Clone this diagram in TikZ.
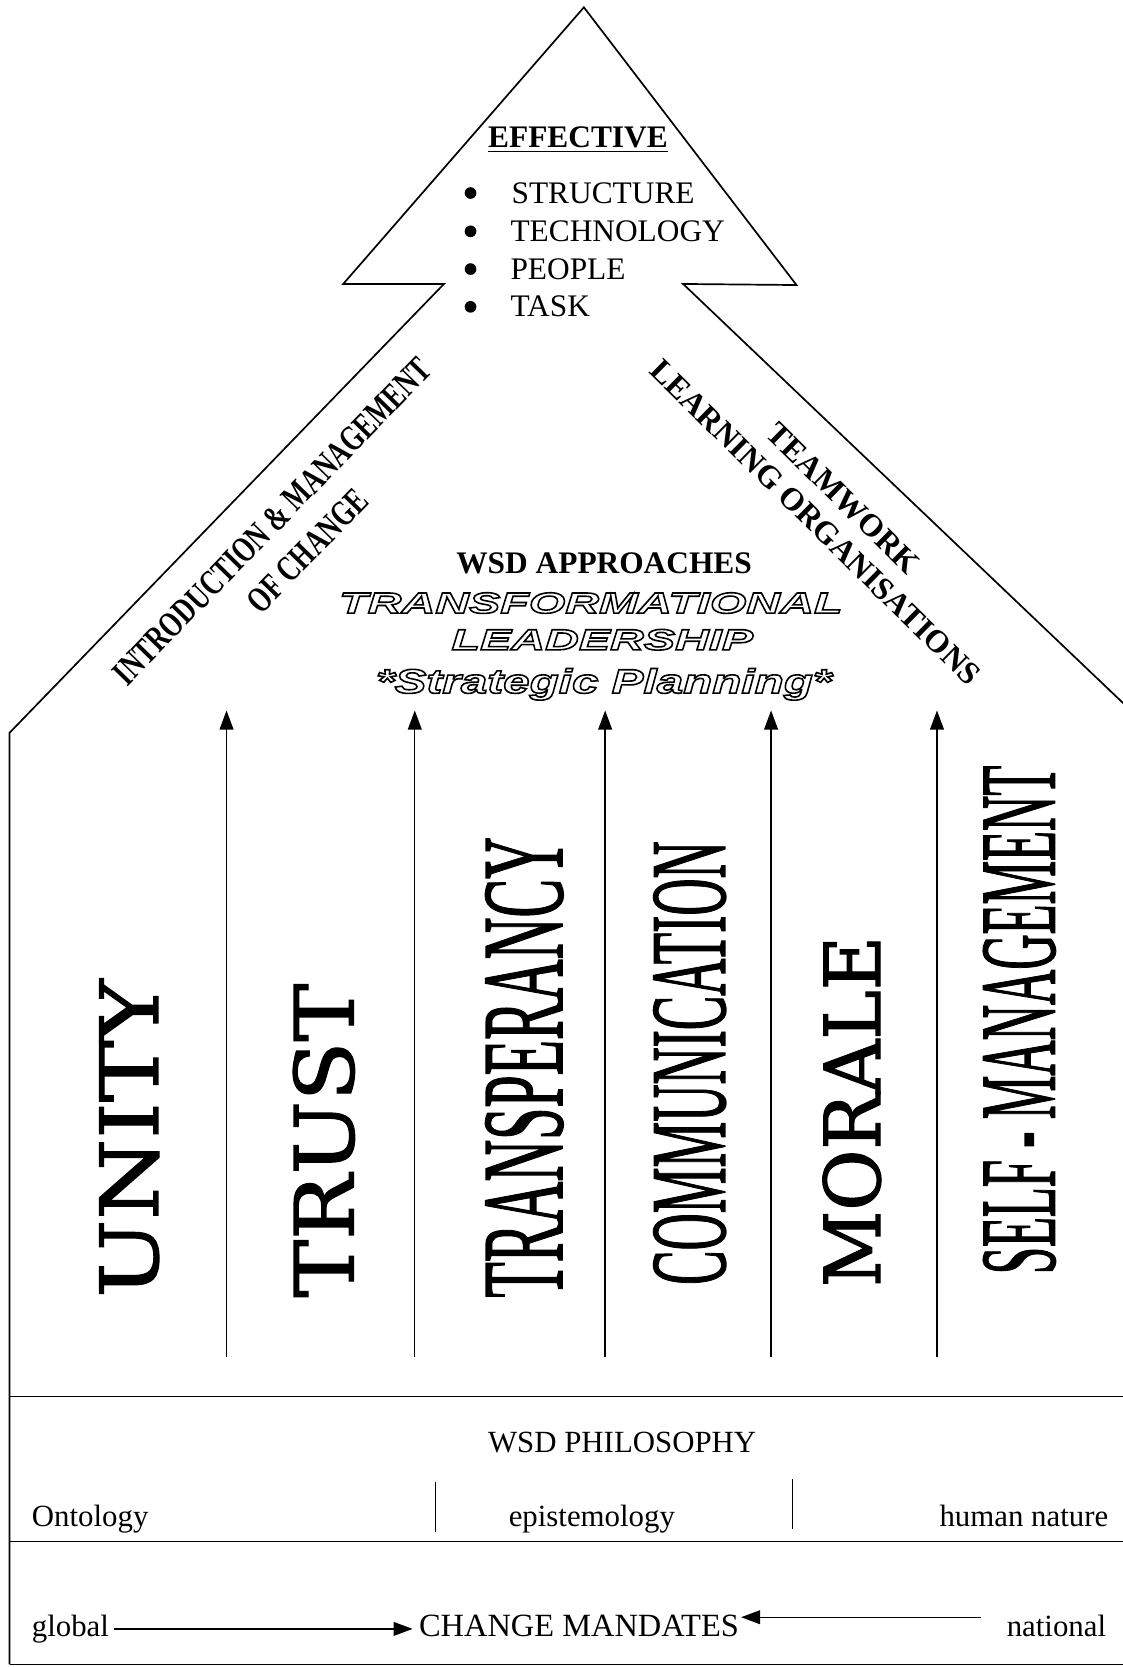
\documentclass[tikz,border=0pt]{standalone}
\usepackage{fontspec}
\setmainfont{Liberation Serif}
\newfontfamily\dvs[FakeBold=1.5]{DejaVu Serif}
\newfontfamily\tms[FakeBold=1.5]{Liberation Serif}
\newfontfamily\arialA[FakeStretch=1.6]{Liberation Sans}
\newfontfamily\arialB[FakeStretch=1.4]{Liberation Sans}
\usepackage{graphicx}
\usetikzlibrary{arrows.meta,calc}
\newcommand{\outl}[1]{\textcolor{white}{\special{pdf:literal direct 2 Tr 1.5 w 0 G}#1\special{pdf:literal direct 0 Tr}}}
\begin{document}
\begin{tikzpicture}[x=1pt,y=-1pt,
  outl/.style={line width=1.6pt, line join=miter},
  arr/.style={line width=1.3pt, -{Triangle[length=18pt,width=13pt]}},
  txt/.style={inner sep=0pt, outer sep=0pt},
  big/.style={txt, font=\fontsize{29.5}{30}\selectfont},
  bigb/.style={txt, font=\fontsize{29.5}{30}\selectfont\bfseries},
  low/.style={txt, font=\fontsize{29}{29}\selectfont},
  diagl/.style={txt, rotate=45.8, font=\fontsize{34}{34}\selectfont\bfseries},
  diagr/.style={txt, rotate=-44.5, font=\fontsize{30}{30}\selectfont\bfseries},
  outA/.style={txt, anchor=base, font=\arialA\fontsize{27.5}{28}\selectfont\bfseries\itshape},
  outB/.style={txt, anchor=base, font=\arialB\fontsize{32}{32}\selectfont\bfseries\itshape},
  vert/.style={txt, rotate=90}
]
\useasboundingbox (0,0) rectangle (1055,1567.4);

% house outline
\draw[outl] (9,1565) -- (9,689) -- (417.4,267) -- (322.7,267) -- (549,6.9)
  -- (748.9,268) -- (642.3,267) -- (1058,663);
\draw[outl] (9,1313) -- (1058,1313);
\draw[outl] (9,1449.5) -- (1058,1449.5);
\draw[outl] (9,1565) -- (1058,1565);

% top arrowhead text
\node[bigb, anchor=base west] (eff) at (459,139) {EFFECTIVE};
\draw[line width=1.5pt] ([yshift=-3.6pt]eff.base west) -- ([yshift=-3.6pt]eff.base east);
\node[big, anchor=base west] (i1) at (481,191) {STRUCTURE};
\node[big, anchor=base west] (i2) at (480,227) {TECHNOLOGY};
\node[big, anchor=base west] (i3) at (480,262.6) {PEOPLE};
\node[big, anchor=base west] (i4) at (480,298) {TASK};
\foreach \yy in {181.5,217.5,253,288.5} \fill (442.4,\yy) circle[radius=5.5pt];

% diagonal texts
\node[diagl] (intro) at (256,490) {\scalebox{0.72}[1]{INTRODUCTION \& MANAGEMENT}};
\node[diagl] (ofc) at (289,518) {\scalebox{0.72}[1]{OF CHANGE}};
\node[diagr] (lo) at (766.7,491) {LEARNING ORGANISATIONS};
\node[diagr] (tw) at (792.7,468.4) {TEAMWORK};

% middle texts
\node[bigb, anchor=base] (wsda) at (568,539) {WSD APPROACHES};
\node[outA] (tf) at (555.5,576.5) {\outl{TRANSFORMATIONAL}};
\node[outA] (ld) at (566.3,611) {\outl{LEADERSHIP}};
\node[outB] (sp) at (567.7,651.7) {\outl{*Strategic Planning*}};

% vertical arrows
\foreach \i/\xx in {1/213,2/390,3/569,4/725,5/881} {
  \coordinate (b\i) at (\xx,1276);
  \coordinate (t\i) at (\xx,668);
  \draw[arr] (b\i) -- (t\i);
}

% vertical words
\node[vert] (unity) at (121.5,1070.5) {\resizebox{299pt}{55pt}{\dvs UNITY}};
\node[vert] (trust) at (304.5,1072.5) {\resizebox{295pt}{57pt}{\dvs TRUST}};
\node[vert] (transp) at (493,1003.5) {\resizebox{433pt}{72pt}{\tms TRANSPERANCY}};
\node[vert] (comm) at (648.5,999.5) {\resizebox{417pt}{67pt}{\tms COMMUNICATION}};
\node[vert] (morale) at (801,1045) {\resizebox{330pt}{54pt}{\dvs MORALE}};
\node[vert] (selfm) at (958.5,959) {\resizebox{478pt}{67pt}{\tms SELF - MANAGEMENT}};

% philosophy section
\node[low, anchor=base] (phil) at (585,1366) {WSD PHILOSOPHY};
\draw[line width=1.6pt] (409.5,1393) -- (409.5,1440);
\draw[line width=1.6pt] (745,1391) -- (745,1438);
\node[low, anchor=base west] (onto) at (30,1435) {Ontology};
\node[low, anchor=base] (epi) at (556.5,1435) {epistemology};
\node[low, anchor=base east] (hum) at (1042,1435) {human nature};

% change mandates
\node[low, anchor=base west] (glob) at (30,1538.5) {global};
\node[txt, font=\fontsize{30.5}{30}\selectfont, anchor=base west] (cm) at (394,1538.5) {CHANGE MANDATES};
\node[low, anchor=base east] (nat) at (1040,1538.5) {national};
\coordinate (gA) at ([xshift=5pt]glob.east);
\draw[arr] (gA) -- ([xshift=-6pt]gA -| cm.west);
\coordinate (nA) at ([xshift=-24pt,yshift=8pt]nat.west);
\draw[arr] (nA) -- ([xshift=2pt]nA -| cm.east);
\end{tikzpicture}
\end{document}
